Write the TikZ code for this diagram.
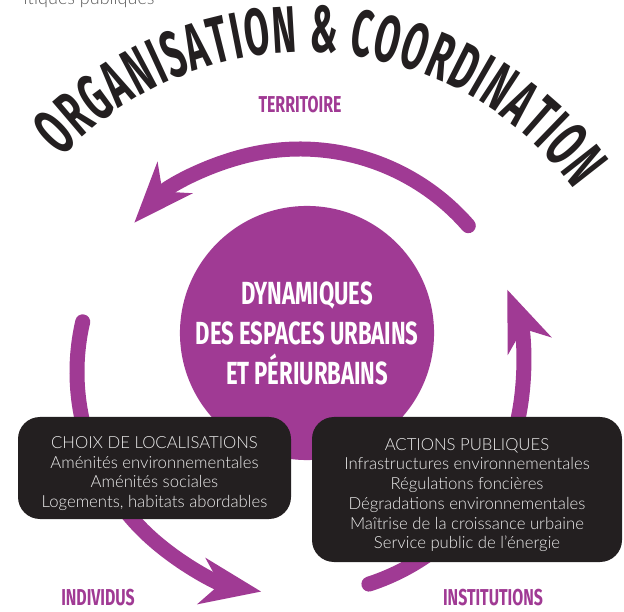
\documentclass[tikz,border=0pt]{standalone}
\usepackage{fontspec}
\setmainfont{Lato}
\newfontfamily\boxfont{Lato Light}
\newfontfamily\bebas{Fira Sans}[FakeStretch=0.69]
\newfontfamily\titlefont{Fira Sans}[FakeStretch=0.55]
\usetikzlibrary{arrows.meta,decorations.text}

\definecolor{dynpurple}{HTML}{A03A94}
\definecolor{boxblack}{HTML}{231F20}
\definecolor{boxtext}{HTML}{EDEDED}

% petit strut pour descendre le texte des encadres
\newcommand{\boxgap}{\rule{0pt}{23pt}}

\tikzset{
  cyclearrow/.style={line width=15pt, draw=dynpurple, line cap=round,
    -{Stealth[length=60pt,width=46pt,inset=18pt,fill=dynpurple]}},
  blackbox/.style={fill=boxblack, rounded corners=22pt, text=boxtext, align=center,
    font=\boxfont\fontsize{16.7}{19.7}\selectfont},
  actor/.style={text=dynpurple, font=\bebas\bfseries\fontsize{23}{23}\selectfont}
}

\begin{document}
\begin{tikzpicture}[x=1pt,y=1pt]
\useasboundingbox (0,0) rectangle (624,611);

% bout de texte coupe en haut
\node[anchor=base east, text=gray!70!black, font=\boxfont\fontsize{18}{18}\selectfont] (policies) at (158,606) {itiques publiques};

% titre en arc
\path[decorate, decoration={text along path, text align=fit to path, text color=boxblack,
  text={|\titlefont\bfseries\fontsize{66}{66}\selectfont|ORGANISATION {\&} COORDINATION}}]
  ([shift={(305,226)}]137:333pt) arc[start angle=137, end angle=36, radius=333pt];

% fleches du cycle
\draw[cyclearrow] ([shift={(300,239)}]41:223pt) arc[start angle=41, end angle=138, radius=223pt];
\draw[cyclearrow] ([shift={(300,239)}]167:223pt) arc[start angle=167, end angle=260, radius=223pt];
\draw[cyclearrow] ([shift={(300,239)}]-72:223pt) arc[start angle=-72, end angle=21.7, radius=223pt];

% cercle central
\node[circle, fill=dynpurple, minimum size=252pt, text=white, align=center,
  font=\bebas\bfseries\fontsize{32}{40}\selectfont] (dyn) at (307,278)
  {DYNAMIQUES\\DES ESPACES URBAINS\\ET PÉRIURBAINS};

% encadres
\node[blackbox, minimum width=273pt, minimum height=102pt] (choix) at (154.5,143)
  {\boxgap CHOIX DE LOCALISATIONS\\Aménités environnementales\\Aménités sociales\\Logements, habitats abordables};
\node[blackbox, minimum width=310pt, minimum height=145pt] (actions) at (467,121.5)
  {\boxgap ACTIONS PUBLIQUES\\Infrastructures environnementales\\Régulations foncières\\Dégradations environnementales\\Maîtrise de la croissance urbaine\\Service public de l’énergie};

% acteurs
\node[actor] (territoire) at (300,506) {TERRITOIRE};
\node[actor] (individus) at (98,13) {INDIVIDUS};
\node[actor] (institutions) at (493,13) {INSTITUTIONS};
\end{tikzpicture}
\end{document}
